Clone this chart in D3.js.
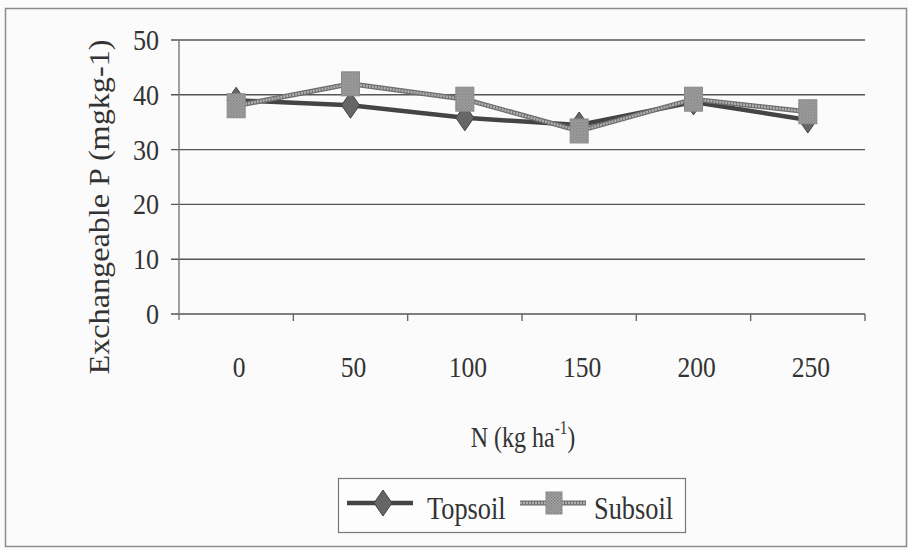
<!DOCTYPE html>
<html>
<head>
<meta charset="utf-8">
<script src="https://cdn.jsdelivr.net/npm/d3@7"></script>
<style>
  body { margin: 0; background: #fff; }
  svg text { font-family: "Times New Roman", "Liberation Serif", "DejaVu Serif", serif; fill: #333; }
</style>
</head>
<body>
<svg id="chart" width="908" height="550"></svg>
<script>
// data
const nRates = ["0", "50", "100", "150", "200", "250"];
const topsoil = [39.0, 38.1, 35.8, 34.5, 38.7, 35.4];
const subsoil = [38.0, 42.0, 39.2, 33.4, 39.2, 36.9];
const yTicks = [0, 10, 20, 30, 40, 50];

const serif = "'Liberation Serif', 'Times New Roman', serif";
const svg = d3.select("#chart");

// paper + frame
svg.append("rect")
    .attr("x", 0).attr("y", 0).attr("width", 908).attr("height", 550)
    .attr("fill", "#fbfbfb");
svg.append("rect")
    .attr("x", 5.5).attr("y", 8.5).attr("width", 901).attr("height", 538)
    .attr("fill", "none").attr("stroke", "#8c8c8c").attr("stroke-width", 1.5);

// stipple pattern for the square markers
const defs = svg.append("defs");
const pat = defs.append("pattern")
    .attr("id", "stip").attr("width", 3).attr("height", 3)
    .attr("patternUnits", "userSpaceOnUse");
pat.append("rect").attr("width", 3).attr("height", 3).attr("fill", "#a6a6a6");
pat.append("rect").attr("width", 1.5).attr("height", 1.5).attr("fill", "#7e7e7e");
pat.append("rect").attr("x", 1.5).attr("y", 1.5).attr("width", 1.5).attr("height", 1.5).attr("fill", "#8a8a8a");

// scales
let x = d3.scaleBand().domain(nRates).range([179, 865]);
let y = d3.scaleLinear().domain([0, 50]).range([314, 40]);

// gridlines
svg.append("g")
    .selectAll("line")
    .data(yTicks)
    .enter().append("line")
    .attr("x1", 171).attr("x2", 865)
    .attr("y1", d => y(d)).attr("y2", d => y(d))
    .attr("stroke", "#555").attr("stroke-width", 1.4);

// y axis line
svg.append("line")
    .attr("x1", 179).attr("x2", 179)
    .attr("y1", y(50)).attr("y2", y(0) + 6)
    .attr("stroke", "#777").attr("stroke-width", 1.4);

// x axis ticks at band edges
let edges = nRates.map(d => x(d)).concat([x.range()[1]]);
svg.append("g")
    .selectAll("line")
    .data(edges.slice(1))
    .enter().append("line")
    .attr("x1", d => d).attr("x2", d => d)
    .attr("y1", y(0)).attr("y2", y(0) + 7)
    .attr("stroke", "#666").attr("stroke-width", 1.4);

// y tick labels
svg.append("g")
    .selectAll("text")
    .data(yTicks)
    .enter().append("text")
    .attr("transform", d => "translate(159," + (y(d) + 10) + ") scale(0.9,1)")
    .attr("text-anchor", "end")
    .attr("font-family", serif)
    .attr("font-size", 29)
    .text(d => d);

// x tick labels
svg.append("g")
    .selectAll("text")
    .data(nRates)
    .enter().append("text")
    .attr("transform", d => "translate(" + (x(d) + x.bandwidth() / 2 + 3) + ",377) scale(0.88,1)")
    .attr("text-anchor", "middle")
    .attr("font-family", serif)
    .attr("font-size", 29)
    .text(d => d);

// y title
svg.append("text")
    .attr("transform", "translate(109,207) rotate(-90)")
    .attr("text-anchor", "middle")
    .attr("font-family", serif)
    .attr("font-size", 30)
    .attr("textLength", 335)
    .attr("lengthAdjust", "spacingAndGlyphs")
    .text("Exchangeable P (mgkg-1)");

// x title
let xt = svg.append("text")
    .attr("transform", "translate(523,447) scale(0.8,1)")
    .attr("text-anchor", "middle")
    .attr("font-family", serif)
    .attr("font-size", 30);
xt.append("tspan").text("N (kg ha");
xt.append("tspan").attr("dy", -13).attr("font-size", 19).text("-1");
xt.append("tspan").attr("dy", 13).text(")");

// series
let cx = d => x(d) + x.bandwidth() / 2;
let lineFn = d3.line().x(d => cx(d.k)).y(d => y(d.v));

let topData = nRates.map((k, i) => ({k: k, v: topsoil[i]}));
let subData = nRates.map((k, i) => ({k: k, v: subsoil[i]}));

function diamond(sel, w, h) {
    sel.attr("d", "M0," + (-h) + "L" + w + ",0L0," + h + "L" + (-w) + ",0Z")
        .attr("fill", "#666").attr("stroke", "#444").attr("stroke-width", 1);
}
function square(sel, w, h) {
    sel.attr("x", -w / 2).attr("y", -h / 2).attr("width", w).attr("height", h)
        .attr("fill", "url(#stip)").attr("stroke", "#8a8a8a").attr("stroke-width", 1);
}

svg.append("path").datum(topData)
    .attr("d", lineFn)
    .attr("fill", "none").attr("stroke", "#444").attr("stroke-width", 4.5);
svg.append("g").selectAll("path")
    .data(topData)
    .enter().append("path")
    .attr("transform", d => "translate(" + cx(d.k) + "," + y(d.v) + ")")
    .call(diamond, 9, 13);

// subsoil line: darker edge with a lighter dotted core
svg.append("path").datum(subData)
    .attr("d", lineFn)
    .attr("fill", "none").attr("stroke", "#6e6e6e").attr("stroke-width", 5);
svg.append("path").datum(subData)
    .attr("d", lineFn)
    .attr("fill", "none").attr("stroke", "#b0b0b0").attr("stroke-width", 2.5)
    .attr("stroke-dasharray", "2,1");
svg.append("g").selectAll("rect")
    .data(subData)
    .enter().append("rect")
    .attr("transform", d => "translate(" + cx(d.k) + "," + y(d.v) + ")")
    .call(square, 18, 24);

// legend
let lg = svg.append("g");
lg.append("rect")
    .attr("x", 338.5).attr("y", 478.5).attr("width", 347).attr("height", 54)
    .attr("fill", "#fdfdfd").attr("stroke", "#777").attr("stroke-width", 1.2);

lg.append("line")
    .attr("x1", 347).attr("x2", 413).attr("y1", 503).attr("y2", 503)
    .attr("stroke", "#444").attr("stroke-width", 4.5);
lg.append("path")
    .attr("transform", "translate(383,503)")
    .call(diamond, 9, 13);
lg.append("text")
    .attr("transform", "translate(427,519) scale(0.85,1)")
    .attr("font-family", serif)
    .attr("font-size", 31)
    .text("Topsoil");

lg.append("line")
    .attr("x1", 520).attr("x2", 586).attr("y1", 503).attr("y2", 503)
    .attr("stroke", "#6e6e6e").attr("stroke-width", 5);
lg.append("line")
    .attr("x1", 520).attr("x2", 586).attr("y1", 503).attr("y2", 503)
    .attr("stroke", "#b0b0b0").attr("stroke-width", 2.5)
    .attr("stroke-dasharray", "2,1");
lg.append("rect")
    .attr("transform", "translate(554,503)")
    .call(square, 16, 22);
lg.append("text")
    .attr("transform", "translate(594,519) scale(0.85,1)")
    .attr("font-family", serif)
    .attr("font-size", 31)
    .text("Subsoil");
</script>
</body>
</html>
